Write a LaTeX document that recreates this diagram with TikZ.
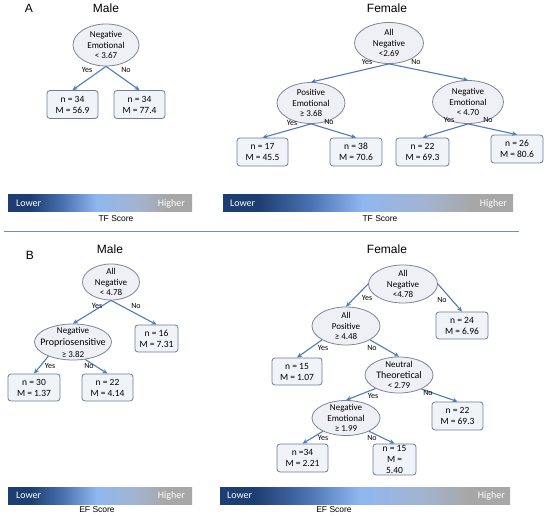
\documentclass[tikz,border=0pt]{standalone}
\usepackage{fontspec}
\setmainfont{Carlito}
\newfontfamily\arialf{Liberation Sans}
\usetikzlibrary{shapes.geometric,arrows.meta}
\definecolor{arrowc}{HTML}{4F7DB8}
\definecolor{ellfill}{HTML}{EEF0F6}
\definecolor{elldraw}{HTML}{7F8596}
\definecolor{boxfill}{HTML}{F0F3F8}
\definecolor{boxdraw}{HTML}{6E7E98}
\definecolor{barDark}{HTML}{1D3E72}
\definecolor{barMid}{HTML}{4A72B0}
\definecolor{barLight}{HTML}{8FB6F0}
\definecolor{barPale}{HTML}{A3B4D0}
\definecolor{barGray}{HTML}{A7A7A7}
\definecolor{sepc}{HTML}{6F8FB5}
\pgfdeclarehorizontalshading{scorebar}{100bp}{color(0bp)=(barDark); color(25bp)=(barDark); color(31bp)=(barDark); color(40bp)=(barMid); color(49bp)=(barLight); color(60bp)=(barPale); color(68bp)=(barGray); color(100bp)=(barGray)}
\tikzset{
  ell/.style={ellipse, draw=elldraw, fill=ellfill, line width=0.8pt, inner sep=0pt},
  etext/.style={align=center, font=\fontsize{9}{10.5}\selectfont, inner sep=0pt},
  leaf/.style={draw=boxdraw, fill=boxfill, rounded corners=3pt, line width=0.8pt, align=center, font=\fontsize{9.5}{11}\selectfont, inner sep=0pt},
  yn/.style={font=\fontsize{8}{9}\selectfont, inner sep=0pt},
  arr/.style={draw=arrowc, line width=1.1pt, -{Stealth[length=5pt,width=4.5pt]}},
  ttl/.style={font=\arialf\fontsize{12}{14}\selectfont, inner sep=0pt},
  scorelbl/.style={font=\arialf\fontsize{8.5}{10}\selectfont, inner sep=0pt},
  barlbl/.style={font=\fontsize{10}{12}\selectfont, text=white, inner sep=0pt},
  sbar/.style={shading=scorebar}
}
\begin{document}
\begin{tikzpicture}[x=1pt,y=-1pt]
\useasboundingbox[fill=white] (0,0) rectangle (550,516);
% ---------------- Panel A ----------------
\node[ttl] (lA) at (29,8) {A};
\node[ttl] (tAm) at (106,8) {Male};
\node[ttl] (tAf) at (387,8) {Female};
% Male A
\node[ell, minimum width=66, minimum height=42] (ma) at (106,45) {};
\node[etext] at (ma) {Negative\\Emotional\\< 3.67};
\node[leaf, minimum width=51, minimum height=28] (ma1) at (72.5,104.5) {n = 34\\M = 56.9};
\node[leaf, minimum width=51, minimum height=28] (ma2) at (139.5,104.5) {n = 34\\M = 77.4};
\draw[arr] (ma.south) -- (ma1.north);
\draw[arr] (ma.south) -- (ma2.north);
\node[yn] at (87,70) {Yes};
\node[yn] at (126,70) {No};
% Female A
\node[ell, minimum width=69, minimum height=41] (fa) at (389,43) {};
\node[etext] at (fa) {All\\Negative\\<2.69};
\node[ell, minimum width=68, minimum height=41] (fal) at (311,103) {};
\node[etext] at (fal) {Positive\\Emotional\\≥ 3.68};
\node[ell, minimum width=71, minimum height=43] (far) at (468,102) {};
\node[etext] at (far) {Negative\\Emotional\\< 4.70};
\draw[arr] (fa.south) -- (fal.north);
\draw[arr] (fa.south) -- (far.north);
\node[yn] at (367,62) {Yes};
\node[yn] at (416,62) {No};
\node[leaf, minimum width=51, minimum height=28] (fa1) at (262.5,152) {n = 17\\M = 45.5};
\node[leaf, minimum width=52, minimum height=28] (fa2) at (356,152) {n = 38\\M = 70.6};
\node[leaf, minimum width=53, minimum height=28] (fa3) at (422.5,152) {n = 22\\M = 69.3};
\node[leaf, minimum width=52, minimum height=28] (fa4) at (517,149) {n = 26\\M = 80.6};
\draw[arr] (fal.south) -- (fa1.north);
\draw[arr] (fal.south) -- (fa2.north);
\draw[arr] (far.south) -- (fa3.north);
\draw[arr] (far.south) -- (fa4.north);
\node[yn] at (292,123) {Yes};
\node[yn] at (329,122) {No};
\node[yn] at (449,120) {Yes};
\node[yn] at (488,120) {No};
% bars A
\shade[sbar] (8,195) rectangle (192,212);
\shade[sbar] (223,195) rectangle (513,212);
\node[barlbl, anchor=west] at (16,203.5) {Lower};
\node[barlbl, anchor=east] at (185,203.5) {Higher};
\node[barlbl, anchor=west] at (230,203.5) {Lower};
\node[barlbl, anchor=east] at (507,203.5) {Higher};
\node[scorelbl] at (116,218.5) {TF Score};
\node[scorelbl] at (380,218.5) {TF Score};
% separator
\draw[sepc, line width=1pt] (4,232) -- (519,232);
% ---------------- Panel B ----------------
\node[ttl] (lB) at (30,255) {B};
\node[ttl] (tBm) at (110,249) {Male};
\node[ttl] (tBf) at (387,249) {Female};
% Male B
\node[ell, minimum width=57, minimum height=36] (mb) at (111,282) {};
\node[etext] at (mb) {All\\Negative\\< 4.78};
\node[ell, minimum width=77, minimum height=36] (mbl) at (73,342) {};
\node[align=center, inner sep=0pt] at (mbl) {\fontsize{9}{10.5}\selectfont Negative\\\fontsize{10}{11}\selectfont Propriosensitive\\\fontsize{9}{10.5}\selectfont ≥ 3.82};
\node[leaf, minimum width=43, minimum height=27] (mbr) at (156.5,338.5) {n = 16\\M = 7.31};
\draw[arr] (mb.south) -- (mbl.north);
\draw[arr] (mb.south) -- (mbr.north);
\node[yn] at (97,306) {Yes};
\node[yn] at (136,306) {No};
\node[leaf, minimum width=52, minimum height=27] (mb1) at (34,387.5) {n = 30\\M = 1.37};
\node[leaf, minimum width=51, minimum height=27] (mb2) at (107.5,387.5) {n = 22\\M = 4.14};
\draw[arr] (mbl.-150) -- (mb1.north);
\draw[arr] (mbl.-55) -- (mb2.north);
\node[yn] at (50,366) {Yes};
\node[yn] at (89,366) {No};
% Female B
\node[ell, minimum width=69, minimum height=38] (fb) at (403,284) {};
\node[etext] at (fb) {All\\Negative\\<4.78};
\node[ell, minimum width=68, minimum height=38] (fbl) at (346,326) {};
\node[etext] at (fbl) {All\\Positive\\≥ 4.48};
\node[leaf, minimum width=52, minimum height=27] (fbr) at (462,325.5) {n = 24\\M = 6.96};
\draw[arr] (fb.west) -- (fbl.north);
\draw[arr] (fb.east) -- (fbr.north);
\node[yn] at (367,298) {Yes};
\node[yn] at (442,300) {No};
\node[leaf, minimum width=50, minimum height=27] (fb1) at (297,371.5) {n = 15\\M = 1.07};
\node[ell, minimum width=68, minimum height=36] (fbn) at (399,375) {};
\node[etext] at (fbn) {Neutral\\\fontsize{10}{11}\selectfont Theoretical\\< 2.79};
\draw[arr] (fbl.-150) -- (fb1.north);
\draw[arr] (fbl.-30) -- (fbn.north);
\node[yn] at (323,348) {Yes};
\node[yn] at (372,348) {No};
\node[ell, minimum width=68, minimum height=35] (fbe) at (346,418) {};
\node[etext] at (fbe) {Negative\\Emotional\\≥ 1.99};
\node[leaf, minimum width=51, minimum height=28] (fb2) at (457.5,416) {n = 22\\M = 69.3};
\draw[arr] (fbn.-150) -- (fbe.north);
\draw[arr] (fbn.-32) -- (fb2.north);
\node[yn] at (373,396) {Yes};
\node[yn] at (428,393) {No};
\node[leaf, minimum width=51, minimum height=28] (fb3) at (302.5,458) {n =34\\M = 2.21};
\node[leaf, minimum width=43, minimum height=31] (fb4) at (394.5,459.5) {n = 15\\M =\\5.40};
\draw[arr] (fbe.-150) -- (fb3.north);
\draw[arr] (fbe.-30) -- (fb4.north);
\node[yn] at (323,438) {Yes};
\node[yn] at (372,438) {No};
% bars B
\shade[sbar] (8,487) rectangle (192,504);
\shade[sbar] (220,487) rectangle (510,504);
\node[barlbl, anchor=west] at (16,495.5) {Lower};
\node[barlbl, anchor=east] at (185,495.5) {Higher};
\node[barlbl, anchor=west] at (227,495.5) {Lower};
\node[barlbl, anchor=east] at (505,495.5) {Higher};
\node[scorelbl] at (97,510) {EF Score};
\node[scorelbl] at (334,510) {EF Score};
\end{tikzpicture}
\end{document}
